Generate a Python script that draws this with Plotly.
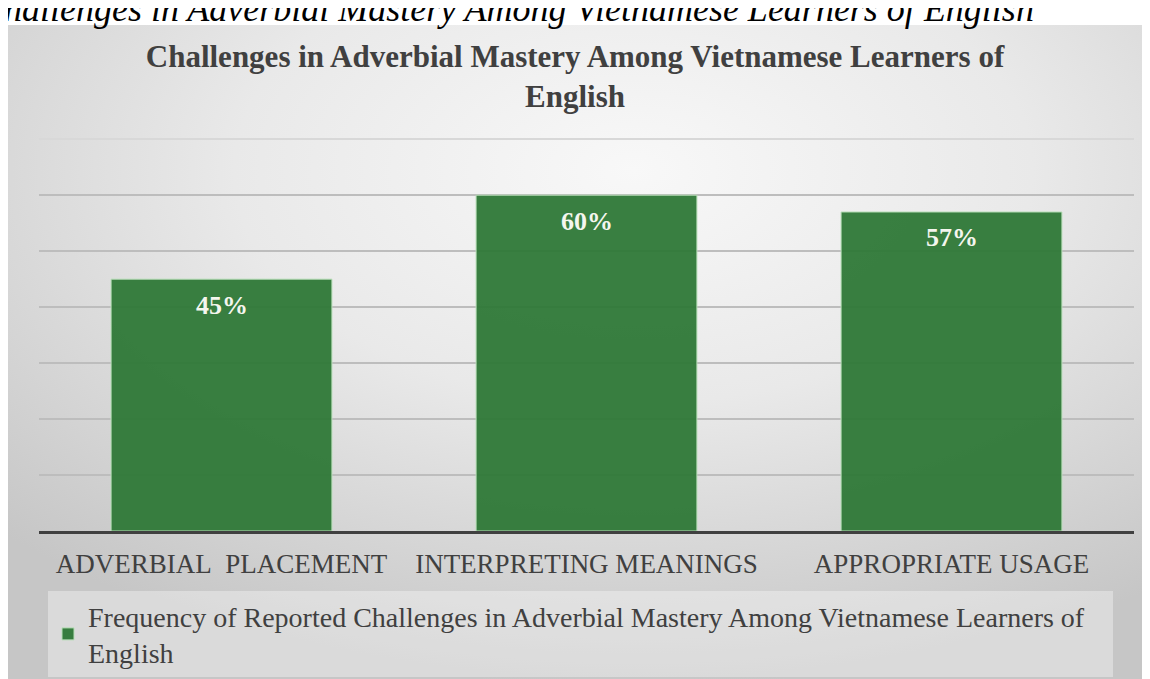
import base64
import plotly.graph_objects as go

categories = ["ADVERBIAL\u00a0 PLACEMENT", "INTERPRETING MEANINGS", "APPROPRIATE USAGE"]
values = [45, 60, 57]
series_name = "Frequency of Reported Challenges in Adverbial Mastery Among Vietnamese Learners of<br>English"
chart_title = "Challenges in Adverbial Mastery Among Vietnamese Learners of<br>English"
caption = "Challenges in Adverbial Mastery Among Vietnamese Learners of English"
grid_vals = [0, 10, 20, 30, 40, 50, 60]
top_grid = [70]

# page is rendered with an 8px body margin; targets below are in figure pixels
W, H = 1150, 679
ML, MT = 31, 129
PW, PH = 1095, 394
MR, MB = W - ML - PW, H - MT - PH

def px_x(x):
    return (x - ML) / PW

def px_y(y):
    return (MT + PH - y) / PH

SERIF = "Liberation Serif, Times New Roman, serif"

svg = (
    '<svg xmlns="http://www.w3.org/2000/svg" width="1137" height="662" '
    'viewBox="0 0 1137 662" preserveAspectRatio="none">'
    '<defs><radialGradient id="g" cx="0.55" cy="0.22" r="0.78" fx="0.55" fy="0.22">'
    '<stop offset="0" stop-color="#f8f8f8"/>'
    '<stop offset="0.45" stop-color="#e9e9e9"/>'
    '<stop offset="1" stop-color="#c6c6c6"/>'
    '</radialGradient></defs>'
    '<rect width="1137" height="662" fill="url(#g)"/></svg>'
)
bg_src = "data:image/svg+xml;base64," + base64.b64encode(svg.encode()).decode()

fig = go.Figure()
fig.add_trace(go.Bar(
    x=categories,
    y=values,
    name=series_name,
    marker=dict(color="rgba(46,120,55,0.95)", line=dict(color="#b8dfb8", width=1)),
    width=0.605,
    showlegend=True,
))

for c, v in zip(categories, values):
    fig.add_annotation(
        x=c, y=v, xref="x", yref="y", text=f"<b>{v}%</b>",
        showarrow=False, yanchor="middle", yshift=-26,
        font=dict(family=SERIF, size=26, color="#f4f6ee"),
    )

fig.add_annotation(
    x=px_x(1028), y=px_y(1), xref="paper", yref="paper",
    text=f"<i>{caption}</i>", showarrow=False,
    xanchor="right", yanchor="middle",
    font=dict(family=SERIF, size=36, color="#000000"),
)

fig.add_layout_image(dict(
    source=bg_src, xref="paper", yref="paper",
    x=px_x(0), y=px_y(17), sizex=1137 / PW, sizey=662 / PH,
    xanchor="left", yanchor="top", sizing="stretch", layer="below",
))

fig.update_layout(
    width=W, height=H,
    margin=dict(l=ML, r=MR, t=MT, b=MB, pad=0, autoexpand=False),
    paper_bgcolor="#ffffff",
    plot_bgcolor="rgba(0,0,0,0)",
    title=dict(
        text=f"<b>{chart_title}</b>", xref="container", x=567 / W, xanchor="center",
        yref="container", y=1 - 59 / H, yanchor="middle",
        font=dict(family=SERIF, size=31, color="#404040"),
    ),
    xaxis=dict(
        showgrid=False, showline=True, linecolor="#404040", linewidth=3,
        ticks="", ticklabelstandoff=7, automargin=False,
        tickfont=dict(family=SERIF, size=27, color="#404040"),
    ),
    yaxis=dict(
        range=[0, 70.4], tickmode="array", tickvals=grid_vals,
        showgrid=True, gridcolor="#bdbdbd", gridwidth=1.5,
        minor=dict(tickmode="array", tickvals=top_grid, showgrid=True,
                   gridcolor="#d8d8d8", gridwidth=1.5, ticks=""),
        showticklabels=False, zeroline=False, showline=False, automargin=False,
    ),
    legend=dict(
        orientation="h", x=px_x(40), y=px_y(583), xanchor="left", yanchor="top",
        bgcolor="rgba(255,255,255,0.35)",
        font=dict(family=SERIF, size=28, color="#404040"),
        itemwidth=30,
        entrywidth=1020, entrywidthmode="pixels",
    ),
    showlegend=True,
)

fig.write_html("out.html")
